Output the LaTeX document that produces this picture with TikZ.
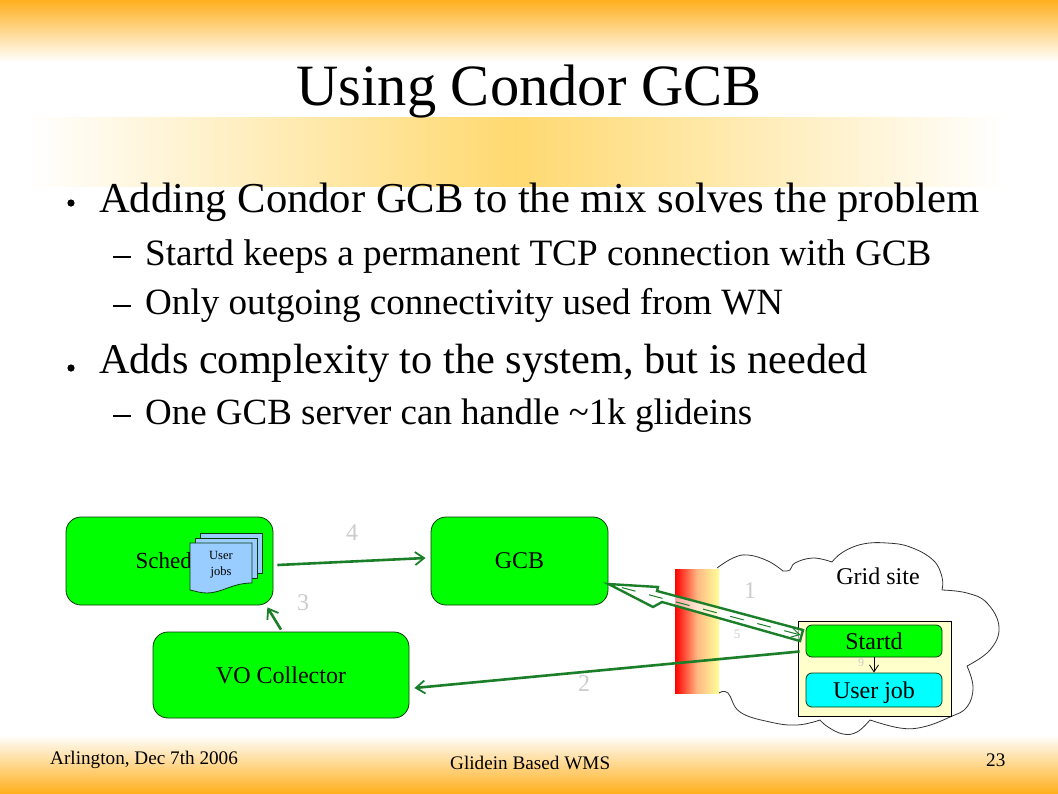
\documentclass[tikz,border=0pt]{standalone}
\usepackage{fontspec}
\setmainfont{Liberation Serif}
\usetikzlibrary{arrows.meta,calc}
\definecolor{orangetop}{HTML}{FFB01E}
\definecolor{bandmid}{HTML}{FFD970}
\definecolor{linkgreen}{HTML}{1A7F28}
\definecolor{boxedge}{HTML}{0A3A0A}
\definecolor{docblue}{HTML}{99CCFF}
\definecolor{sitefill}{HTML}{FFFFCC}
\definecolor{wallyellow}{HTML}{FFFF99}
\definecolor{stepgrey}{HTML}{CCCCCC}
\definecolor{purecyan}{HTML}{00FFFF}
\definecolor{puregreen}{HTML}{00FF00}
\newcommand{\fs}[1]{\fontsize{#1}{#1}\selectfont}
\tikzset{
  greenbox/.style={draw=boxedge,line width=0.8pt,fill=puregreen,rounded corners=15pt,inner sep=0pt,font=\fs{24}},
  innerbox/.style={draw=boxedge,line width=0.8pt,rounded corners=6pt,inner sep=0pt,font=\fs{24}},
  link/.style={draw=linkgreen,line width=2.6pt,-{Straight Barb[length=9pt,width=13pt,line width=1.8pt]}},
  stepnum/.style={text=stepgrey,font=\fs{24},inner sep=0pt},
  docsheet/.style={draw=boxedge,line width=0.8pt,fill=docblue},
  mainline/.style={anchor=base west,inner sep=0pt,font=\fs{42.6}},
  subline/.style={anchor=base west,inner sep=0pt,font=\fs{37.1}},
  foot/.style={inner sep=0pt,font=\fs{19.2}},
  cloudline/.style={draw=black!80,line width=0.8pt}
}
\begin{document}
\begin{tikzpicture}[x=1pt,y=-1pt]
\useasboundingbox (0,0) rectangle (1058,793);
\fill[white] (0,0) rectangle (1058,793);
% backgrounds
\shade[top color=orangetop,bottom color=white] (0,0) rectangle (1058,62);
\shade[top color=white,bottom color=orangetop] (0,735) rectangle (1058,793);
\shade[left color=white,right color=white,middle color=bandmid] (27,117) rectangle (1005,186);
% texts
\node[inner sep=0pt,font=\fs{58.5},anchor=base] (title) at (529,105) {Using Condor GCB};
\node[mainline] (m1) at (99,212) {Adding Condor GCB to the mix solves the problem};
\node[subline,font=\fs{37.2}] (s1) at (145,265) {Startd keeps a permanent TCP connection with GCB};
\node[subline] (s2) at (145,314) {Only outgoing connectivity used from WN};
\node[mainline,font=\fs{42.3}] (m2) at (99,373.5) {Adds complexity to the system, but is needed};
\node[subline,font=\fs{36.95}] (s3) at (145,424) {One GCB server can handle \textasciitilde 1k glideins};
\fill (71,203) circle (3.6pt);
\fill (71,368) circle (3.6pt);
\fill (113,256) rectangle (131,258);
\fill (113,305) rectangle (131,307);
\fill (113,415) rectangle (131,417);
% wall
\shade[left color=red,right color=wallyellow,middle color=red!35!wallyellow!80!white] (675,569) rectangle (719,693);
% cloud
\draw[cloudline] plot[smooth,tension=.7] coordinates {(717,568) (733,558) (748,555) (768,561) (783,571)};
\draw[cloudline] plot[smooth,tension=.7] coordinates {(783,571) (790,570) (795,563) (813,558) (832,562)};
\draw[cloudline] plot[smooth,tension=.7] coordinates {(832,562) (843,552) (863,544) (887,543) (910,547) (933,560) (942,577) (942,590)};
\draw[cloudline] plot[smooth,tension=.7] coordinates {(942,590) (967,593) (987,603) (999,627) (990,650) (967,666)};
\draw[cloudline] plot[smooth,tension=.7] coordinates {(967,666) (973,687) (967,707) (950,717) (923,727) (900,728) (870,720)};
\draw[cloudline] plot[smooth,tension=.7] coordinates {(870,720) (857,732) (843,734) (828,727) (820,720)};
\draw[cloudline] plot[smooth,tension=.7] coordinates {(820,720) (797,725) (770,722) (740,712) (728,693) (719,693)};
% boxes
\node[greenbox,font=\fs{23},minimum width=207pt,minimum height=88pt] (sched) at (169.5,561) {Schedd};
\node[greenbox,minimum width=177pt,minimum height=88pt] (gcb) at (519.5,561) {GCB};
\node[greenbox,minimum width=256pt,minimum height=86pt] (vo) at (281,675) {VO Collector};
\node[draw=black,line width=0.8pt,fill=sitefill,minimum width=153pt,minimum height=95pt,inner sep=0pt] (site) at (874.5,668.5) {};
\node[innerbox,fill=puregreen,minimum width=136pt,minimum height=32pt] (startd) at (874,641) {Startd};
\node[innerbox,fill=purecyan,text depth=0pt,minimum width=136pt,minimum height=34pt] (job) at (874,690) {User job};
\node[inner sep=0pt,font=\fs{24}] (gridlabel) at (878,576) {Grid site};
% documents
\draw[docsheet] (200,533) rectangle (262,573);
\draw[docsheet] (195,538) rectangle (257,578);
\draw[docsheet] (190,543) -- (252,543) -- (252,583) .. controls (232,583) and (222,593) .. (207,593) .. controls (200,593) and (195,591) .. (190,590) -- cycle;
\node[inner sep=0pt,font=\fs{12.5},align=center] (jobs) at (221,564.5) {User\\[4pt]jobs};
% step numbers
\node[stepnum] (n1) at (750,591) {1};
\node[stepnum] (n2) at (584,684) {2};
\node[stepnum] (n3) at (303,603) {3};
\node[stepnum] (n4) at (352,533) {4};
\node[stepnum,font=\fs{13}] (n5) at (737,634) {5};
\node[stepnum,font=\fs{12}] (n9) at (861,663) {9};
% connectors
\draw[link] ($(sched.east)+(4,4)$) -- ($(gcb.west)+(-5,-3)$);
\draw[link] ($(vo.north)+(0,-2)$) -- ($(sched.south east)+(-6,2)$);
\draw[link] ($(site.west)+(2,-17)$) -- ($(vo.east)+(5,13)$);
\draw[draw=black,line width=0.8pt,-{Straight Barb[length=7pt,width=9pt]}] (startd.south) -- (job.north);
% block arrow GCB <-> Startd
\path ($(gcb.east)+(0,23)$) coordinate (tip);
\filldraw[draw=linkgreen,line width=2.4pt,fill=white,fill opacity=.65,line join=miter] (tip) -- (658,587) -- (657,591) -- (803,630) -- (800,641) -- (662,602) -- (653,607) -- cycle;
\draw[draw=linkgreen,line width=1pt,dash pattern=on 14pt off 14pt,dash phase=14pt,-{Straight Barb[length=8pt,width=9pt]}] (tip) -- ($(startd.west)+(-5,-6)$);
% footer
\node[foot,anchor=west] (f1) at (50,760) {Arlington, Dec 7th 2006};
\node[foot,anchor=west] (f2) at (450,763) {Glidein Based WMS};
\node[foot,anchor=west] (f3) at (986,760) {23};
\end{tikzpicture}
\end{document}
